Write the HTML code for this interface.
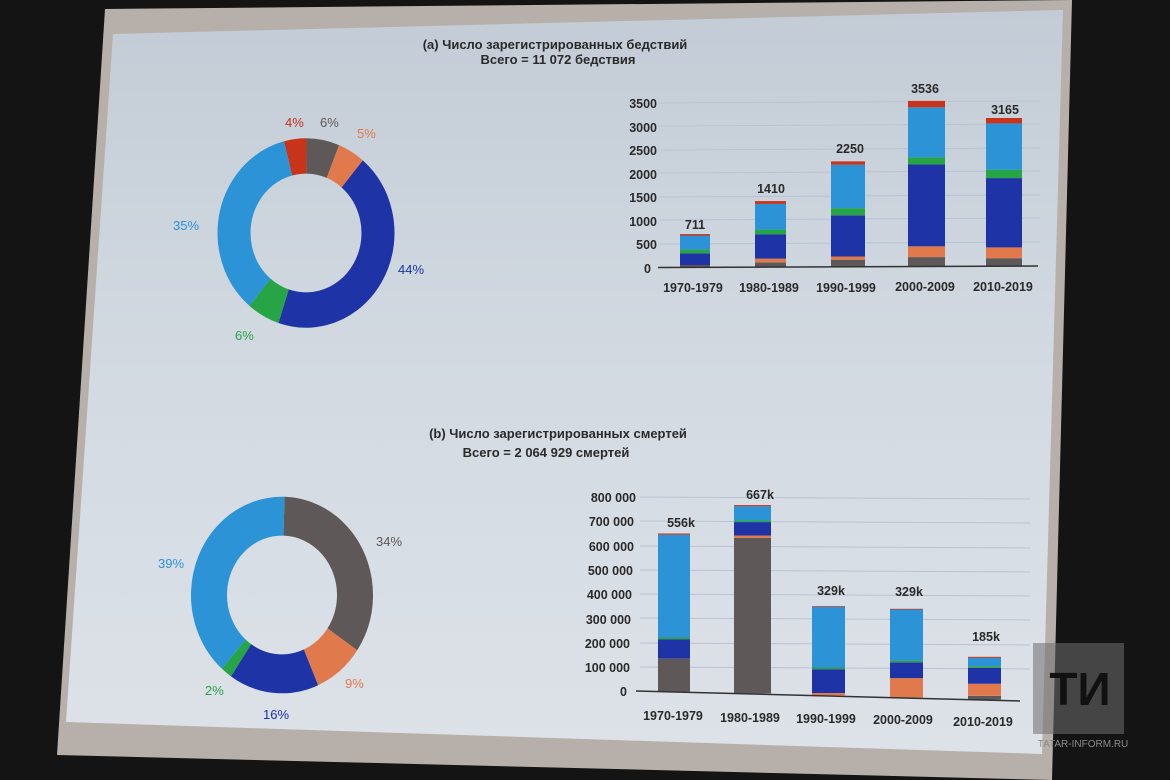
<!DOCTYPE html>
<html><head><meta charset="utf-8"><style>
html,body{margin:0;padding:0;background:#121212;width:1170px;height:780px;overflow:hidden}
svg{display:block}
text{font-family:"Liberation Sans","DejaVu Sans",sans-serif}
</style></head><body>
<svg width="1170" height="780" viewBox="0 0 1170 780" xmlns="http://www.w3.org/2000/svg">
<defs>
<linearGradient id="bg" x1="0" y1="0" x2="0" y2="1">
<stop offset="0" stop-color="#c3ccd6"/><stop offset="0.5" stop-color="#d3dae2"/><stop offset="1" stop-color="#dde2e8"/>
</linearGradient>
</defs>
<rect width="1170" height="780" fill="#141414"/>
<polygon points="105,9 1072,0 1052,780 57,755" fill="#b7b0aa"/>
<polygon points="113,34 1063,10 1042,754 66,722" fill="url(#bg)"/>

<g font-weight="bold" fill="#2a2a2a" font-size="13" text-anchor="middle">
<text x="555" y="49">(a) Число зарегистрированных бедствий</text>
<text x="558" y="64">Всего = 11 072 бедствия</text>
<text x="558" y="438">(b) Число зарегистрированных смертей</text>
<text x="546" y="457">Всего = 2 064 929 смертей</text>
</g>

<!-- top donut -->
<g transform="translate(306,233) scale(1,1.07)">
<g transform="rotate(-104)" fill="none" stroke-width="33">
<circle r="72" pathLength="100" stroke="#c8341a" stroke-dasharray="4 96" stroke-dashoffset="0"/>
<circle r="72" pathLength="100" stroke="#5f5858" stroke-dasharray="6 94" stroke-dashoffset="-4"/>
<circle r="72" pathLength="100" stroke="#e07a4c" stroke-dasharray="5 95" stroke-dashoffset="-10"/>
<circle r="72" pathLength="100" stroke="#1d33a6" stroke-dasharray="44 56" stroke-dashoffset="-15"/>
<circle r="72" pathLength="100" stroke="#27a446" stroke-dasharray="6 94" stroke-dashoffset="-59"/>
<circle r="72" pathLength="100" stroke="#2b93d6" stroke-dasharray="35 65" stroke-dashoffset="-65"/>
</g></g>
<g font-size="13">
<text x="285" y="127" fill="#c8341a">4%</text>
<text x="320" y="127" fill="#5f5858">6%</text>
<text x="357" y="138" fill="#e07a4c">5%</text>
<text x="398" y="274" fill="#1d33a6">44%</text>
<text x="235" y="340" fill="#27a446">6%</text>
<text x="173" y="230" fill="#2b93d6">35%</text>
<text x="376" y="546" fill="#5f5858">34%</text>
<text x="345" y="688" fill="#e07a4c">9%</text>
<text x="263" y="719" fill="#1d33a6">16%</text>
<text x="205" y="695" fill="#27a446">2%</text>
<text x="158" y="568" fill="#2b93d6">39%</text>
</g>

<!-- bottom donut -->
<g transform="translate(282,595) scale(1,1.08)">
<g transform="rotate(-88)" fill="none" stroke-width="36">
<circle r="73" pathLength="100" stroke="#5f5858" stroke-dasharray="34 66"/>
<circle r="73" pathLength="100" stroke="#e07a4c" stroke-dasharray="9 91" stroke-dashoffset="-34"/>
<circle r="73" pathLength="100" stroke="#1d33a6" stroke-dasharray="16 84" stroke-dashoffset="-43"/>
<circle r="73" pathLength="100" stroke="#27a446" stroke-dasharray="2 98" stroke-dashoffset="-59"/>
<circle r="73" pathLength="100" stroke="#2b93d6" stroke-dasharray="39 61" stroke-dashoffset="-61"/>
</g></g>

<!-- top bar chart -->
<g stroke="#b8c4d2" stroke-width="1">
<line x1="660" y1="103" x2="1040" y2="101"/><line x1="660" y1="126" x2="1040" y2="124"/>
<line x1="660" y1="150" x2="1040" y2="148"/><line x1="660" y1="173" x2="1040" y2="171"/>
<line x1="660" y1="197" x2="1040" y2="195"/><line x1="660" y1="220" x2="1040" y2="218"/>
<line x1="660" y1="244" x2="1040" y2="242"/>
</g>
<g font-size="12.5" font-weight="bold" fill="#2a2a2a" text-anchor="end">
<text x="657" y="108">3500</text><text x="657" y="132">3000</text><text x="657" y="155">2500</text>
<text x="657" y="179">2000</text><text x="657" y="202">1500</text><text x="657" y="226">1000</text>
<text x="657" y="249">500</text><text x="651" y="273">0</text>
</g>
<g id="tb"></g>
<line x1="658" y1="267.5" x2="1038" y2="266" stroke="#333" stroke-width="1.5"/>
<g font-size="12.5" font-weight="bold" fill="#2a2a2a" text-anchor="middle">
<text x="695" y="229">711</text><text x="771" y="193">1410</text><text x="850" y="153">2250</text>
<text x="925" y="93">3536</text><text x="1005" y="114">3165</text>
<text x="693" y="292">1970-1979</text><text x="769" y="292">1980-1989</text><text x="846" y="292">1990-1999</text>
<text x="925" y="291">2000-2009</text><text x="1003" y="291">2010-2019</text>
</g>

<!-- bottom bar chart -->
<g stroke="#b8c4d2" stroke-width="1">
<line x1="640" y1="497" x2="1030" y2="499"/><line x1="640" y1="521" x2="1030" y2="523"/>
<line x1="640" y1="546" x2="1030" y2="548"/><line x1="640" y1="570" x2="1030" y2="572"/>
<line x1="640" y1="594" x2="1030" y2="596"/><line x1="640" y1="618" x2="1030" y2="620"/>
<line x1="640" y1="643" x2="1030" y2="645"/><line x1="640" y1="667" x2="1030" y2="669"/>
</g>
<g font-size="12.5" font-weight="bold" fill="#2a2a2a" text-anchor="end">
<text x="636" y="502">800 000</text><text x="634" y="526">700 000</text><text x="634" y="551">600 000</text>
<text x="633" y="575">500 000</text><text x="632" y="599">400 000</text><text x="631" y="624">300 000</text>
<text x="630" y="648">200 000</text><text x="630" y="672">100 000</text><text x="627" y="696">0</text>
</g>
<g id="bb"></g>
<line x1="636" y1="691" x2="1020" y2="701" stroke="#333" stroke-width="1.5"/>
<g font-size="12.5" font-weight="bold" fill="#2a2a2a" text-anchor="middle">
<text x="681" y="527">556k</text><text x="760" y="499">667k</text><text x="831" y="595">329k</text>
<text x="909" y="596">329k</text><text x="986" y="641">185k</text>
<text x="673" y="720">1970-1979</text><text x="750" y="722">1980-1989</text><text x="826" y="723">1990-1999</text>
<text x="903" y="724">2000-2009</text><text x="983" y="726">2010-2019</text>
</g>

<!-- watermark -->
<rect x="1033" y="643" width="91" height="91" fill="#6e6e6e" opacity="0.55"/>
<text x="1080" y="705" font-size="46" font-weight="bold" fill="#111" text-anchor="middle">ТИ</text>
<text x="1083" y="747" font-size="10" fill="#8a8a8a" text-anchor="middle">TATAR-INFORM.RU</text>
</svg>
<script>
var C=["#5f5858","#e07a4c","#1d33a6","#27a446","#2b93d6","#c8341a"];
function bars(id,base,k,slope,data){var g=document.getElementById(id),s="";
data.forEach(function(d){var x=d[0],w=d[1],b=base+slope*(x-640),prev=0;
d[2].forEach(function(v,i){if(v>prev){var y1=b-v*k,y0=b-prev*k;
s+='<rect x="'+x+'" y="'+y1.toFixed(1)+'" width="'+w+'" height="'+(y0-y1).toFixed(1)+'" fill="'+C[i]+'"/>';prev=v;}});});
g.innerHTML=s;}
bars("tb",267.5,0.0468,-0.004,[
[680,30,[50,50,300,380,680,711]],
[755,31,[100,180,700,800,1350,1410]],
[831,34,[150,220,1100,1250,2180,2250]],
[908,37,[200,430,2180,2330,3400,3536]],
[986,36,[170,400,1880,2060,3050,3165]]]);
bars("bb",691,0.000243,0.026,[
[658,32,[135000,135000,215000,222000,645000,650000]],
[734,37,[640000,650000,705000,712000,770000,775000]],
[812,33,[0,10000,108000,115000,365000,368000]],
[890,33,[0,80000,145000,152000,362000,365000]],
[968,33,[15000,65000,130000,137000,172000,176000]]]);
</script>
</body></html>
